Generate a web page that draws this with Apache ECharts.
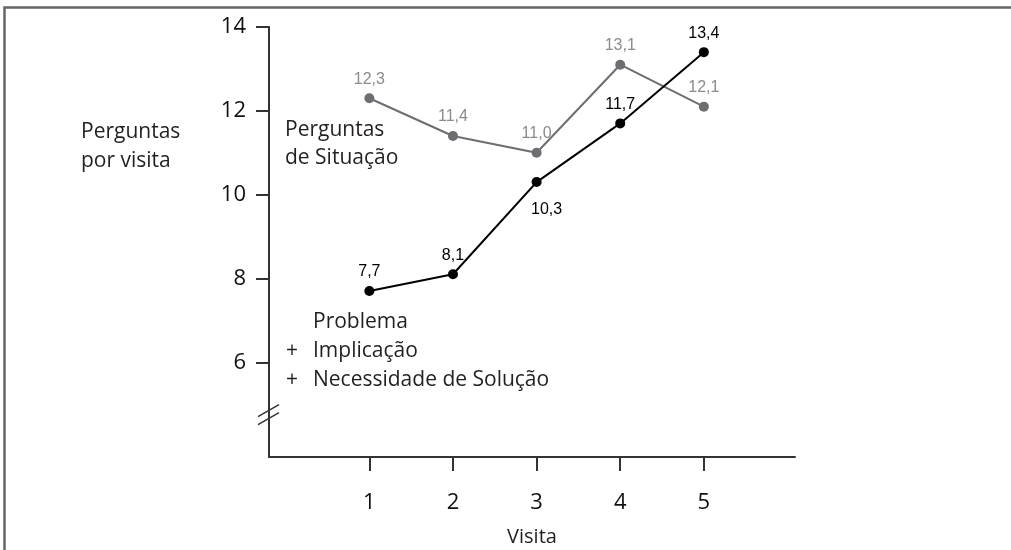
<!DOCTYPE html>
<html>
<head>
<meta charset="utf-8">
<script src="https://cdn.jsdelivr.net/npm/echarts@6/dist/echarts.min.js"></script>
<style>
html,body{margin:0;padding:0;background:#fff;}
#chart{width:1011px;height:550px;}
</style>
</head>
<body>
<div id="chart"></div>
<script>
const visits = [1, 2, 3, 4, 5];
const situacao = [12.3, 11.4, 11.0, 13.1, 12.1];
const problema = [7.7, 8.1, 10.3, 11.7, 13.4];
const yTicks = [6, 8, 10, 12, 14];
const xTicks = [1, 2, 3, 4, 5];

const fmt = v => v.toFixed(1).replace('.', ',');
const labelFont = '"Open Sans", "Noto Sans", sans-serif';

const chart = echarts.init(document.getElementById('chart'), null, {renderer: 'canvas'});

const option = {
  animation: false,
  backgroundColor: '#fff',
  grid: {left: 269, top: 27, right: 216, bottom: 93, containLabel: false, outerBoundsMode: 'none'},
  xAxis: {
    type: 'value',
    min: -0.2, max: 6.09,
    name: 'Visita',
    nameLocation: 'middle',
    nameGap: 70,
    nameTextStyle: {fontFamily: labelFont, fontSize: 20, color: '#231f20'},
    axisLine: {show: true, onZero: false, lineStyle: {color: '#333', width: 2}},
    axisTick: {show: true, length: 14, lineStyle: {color: '#333', width: 2}, customValues: xTicks},
    axisLabel: {customValues: xTicks, margin: 35, fontFamily: labelFont, fontSize: 22, color: '#111'},
    splitLine: {show: false}
  },
  yAxis: {
    type: 'value',
    min: 3.74, max: 14,
    axisLine: {show: true, onZero: false, lineStyle: {color: '#333', width: 2}},
    axisTick: {show: true, length: 13, lineStyle: {color: '#333', width: 2}, customValues: yTicks},
    axisLabel: {customValues: yTicks, margin: 23, fontFamily: labelFont, fontSize: 22, color: '#111'},
    splitLine: {show: false}
  },
  series: [
    {
      name: 'Perguntas de Situação',
      type: 'line',
      data: visits.map((v, i) => [v, situacao[i]]),
      symbol: 'circle', symbolSize: 10,
      lineStyle: {color: '#6d6e71', width: 2},
      itemStyle: {color: '#6d6e71'},
      label: {show: true, position: 'top', distance: 6, formatter: p => fmt(p.value[1]),
        fontFamily: 'Liberation Sans, Arial, sans-serif', fontSize: 16, color: '#8a8b8d'}
    },
    {
      name: 'Problema',
      type: 'line',
      data: visits.map((v, i) => [v, problema[i]]),
      symbol: 'circle', symbolSize: 10,
      lineStyle: {color: '#000', width: 2},
      itemStyle: {color: '#000'},
      label: {show: true, position: 'top', distance: 6, formatter: p => fmt(p.value[1]),
        fontFamily: 'Liberation Sans, Arial, sans-serif', fontSize: 16, color: '#000'},
      labelLayout: function (params) {
        if (params.dataIndex === 2) {
          return {x: params.rect.x + params.rect.width / 2 + 10, y: params.rect.y + params.rect.height / 2 + 28, align: 'center', verticalAlign: 'middle'};
        }
        return {};
      }
    }
  ]
};
chart.setOption(option);

// decorations: frame, axis break marks, annotation texts
const yBreak = chart.convertToPixel({gridIndex: 0}, [-0.2, 4.8]);
const ax = yBreak[0], ay = yBreak[1];
const txt = (x, y, s) => ({type: 'text', x: x, y: y,
  style: {text: s, fontFamily: labelFont, fontSize: 21, fill: '#231f20', verticalAlign: 'middle', align: 'left'}});

chart.setOption({
  graphic: [
    {type: 'polyline', shape: {points: [[4.5, 560], [4.5, 7.5], [1020, 7.5]]},
     style: {stroke: '#666', lineWidth: 2.5, fill: null}},
    {type: 'line', shape: {x1: ax - 11, y1: ay + 4, x2: ax + 10, y2: ay - 8}, style: {stroke: '#333', lineWidth: 1.5}},
    {type: 'line', shape: {x1: ax - 11, y1: ay + 12, x2: ax + 10, y2: ay}, style: {stroke: '#333', lineWidth: 1.5}},
    txt(81, 132, 'Perguntas'),
    txt(81, 161, 'por visita'),
    txt(285, 130, 'Perguntas'),
    txt(285, 158, 'de Situação'),
    txt(313, 322, 'Problema'),
    txt(286, 351, '+'),
    txt(313, 351, 'Implicação'),
    txt(286, 380, '+'),
    txt(313, 380, 'Necessidade de Solução')
  ]
});
</script>
</body>
</html>
